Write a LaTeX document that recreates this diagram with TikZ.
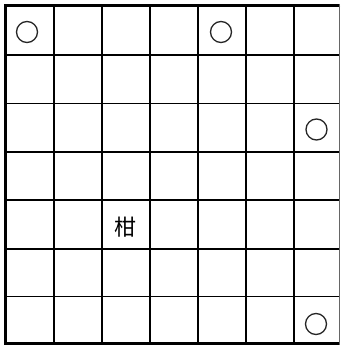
\documentclass[tikz,border=0pt]{standalone}
\usepackage{fontspec}
\newfontfamily\cjk{Noto Sans CJK SC}
\begin{document}
\begin{tikzpicture}[x=1pt,y=-1pt,
  gridline/.style={line width=1.6pt,black},
  border/.style={line width=3pt,black},
  ring/.style={circle,draw=black!85,line width=1.3pt,minimum size=21pt,inner sep=0pt},
  label/.style={font=\cjk\fontsize{22}{22}\selectfont,inner sep=0pt}]
\useasboundingbox (0,0) rectangle (341,347);
\fill[white] (0,0) rectangle (341,347);
% inner grid
\foreach \x in {54,102,150,198,246,294} \draw[gridline] (\x,5) -- (\x,344);
\foreach \y in {55,103.5,152,200,249,296.5} \draw[gridline] (5,\y) -- (340,\y);
% outer border
\draw[border] (340,5.5) -- (5,5.5) -- (5,343.5) -- (340,343.5);
\draw[line width=1.2pt,black!60] (339.6,4) -- (339.6,345);
% circles
\node[ring] (c1) at (27,32) {};
\node[ring] (c2) at (221,32) {};
\node[ring] (c3) at (316.5,129.5) {};
\node[ring] (c4) at (316,324) {};
% text
\node[label] (t) at (125,227) {柑};
\end{tikzpicture}
\end{document}
